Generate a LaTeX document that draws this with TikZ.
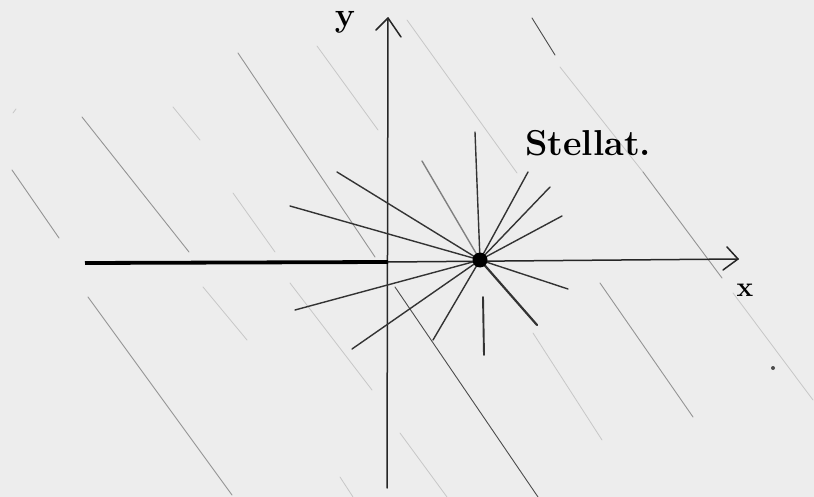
\documentclass[tikz,border=0pt]{standalone}
\begin{document}
\begin{tikzpicture}[x=1pt,y=-1pt,
  bgline/.style={black!42, line width=0.9pt, line cap=round},
  faint/.style={black!22, line width=0.8pt, line cap=round},
  ray/.style={black!80, line width=1.4pt, line cap=round},
  axis/.style={black!85, line width=1.5pt, line cap=round, line join=round},
  lbl/.style={inner sep=0pt, text=black, font=\bfseries}]
\fill[black!7] (0,0) rectangle (814,497);
\useasboundingbox (0,0) rectangle (814,497);

% background diagonal strokes
\draw[bgline] (12,170) -- (59,238);
\draw[bgline] (82,117) -- (189,252);
\draw[bgline] (238,53) -- (375,257);
\draw[faint] (317,46) -- (378,130);
\draw[faint] (233,193) -- (275,252);
\draw[bgline] (88,297) -- (232,495);
\draw[faint] (203,287) -- (247,340);
\draw[faint] (290,283) -- (372,390);
\draw[faint] (340,477) -- (353,497);
\draw[faint] (173,107) -- (200,140);
\draw[faint] (13,113) -- (16,109);
\draw[bgline, black!70] (532,18) -- (555,55);
\draw[faint] (407,20) -- (517,173);
\draw[faint] (560,67) -- (643,172);
\draw[bgline] (643,172) -- (722,278);
\draw[bgline] (600,283) -- (693,417);
\draw[faint] (533,333) -- (602,440);
\draw[faint] (733,293) -- (813,400);
\draw[faint] (400,433) -- (447,497);
\draw[bgline, black!70] (395,287) -- (538,497);
\fill[black!70] (773,368) circle (2);

% axes
\coordinate (ybot) at (387,488);
\coordinate (ytop) at (388,18);
\coordinate (xleft) at (85,263);
\coordinate (o) at (388,262);
\coordinate (xright) at (738,259);
\draw[axis] (ybot) -- (ytop);
\draw[axis] (376,30) -- (ytop) -- (401,37);
\draw[black, line width=3.8pt] (xleft) -- (o);
\draw[axis] (o) -- (xright);
\draw[axis] (727,247) -- (xright) -- (723,270);

\node[lbl, font=\bfseries\fontsize{34}{34}\selectfont] (ylab) at (345,22) {y};
\node[lbl, font=\bfseries\fontsize{28}{28}\selectfont] (xlab) at (745,290) {x};
\node[lbl, font=\bfseries\fontsize{36}{36}\selectfont, anchor=base west] (stellat) at (525,156) {Stellat.};

% star
\coordinate (c) at (480,260);
\foreach \p in {(475,132),(528,172),(550,187),(562,216),(337,172),(290,206),
                (568,289),(433,340),(352,349),(295,310)}
  \draw[ray] (c) -- \p;
\draw[ray, black!50] (c) -- (422,161);
\draw[ray, line width=2.2pt] (c) -- (537,325);
\draw[ray, line width=1.9pt] (483,297) -- (484,355);
\node[circle, fill=black, minimum size=15pt, inner sep=0pt] (dot) at (c) {};
\end{tikzpicture}
\end{document}
